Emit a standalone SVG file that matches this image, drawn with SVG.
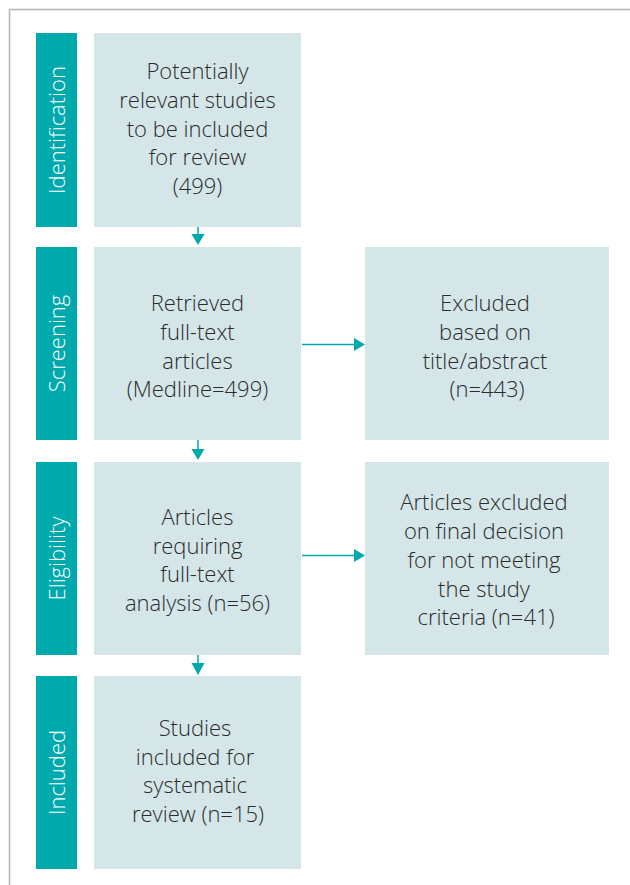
<svg xmlns="http://www.w3.org/2000/svg" width="630" height="885" viewBox="0 0 630 885">
<style>
.frame{fill:#fff;stroke:#b5b5b5;stroke-width:1.5}
.bar{fill:#00a9ac}
.box{fill:#d4e6e8}
.lbl{font-family:"Open Sans",Lato,sans-serif;font-weight:300;font-size:22px;fill:#fff;text-anchor:middle;font-variant-ligatures:none}
.txt{font-family:"Open Sans",Lato,sans-serif;font-weight:300;font-size:22px;fill:#2b2b2b;text-anchor:middle;font-variant-ligatures:none}
.conn{stroke:#00a9ac;stroke-width:1.5;fill:none}
.head{fill:#00a9ac}
</style>
<rect class="frame" x="9.5" y="9.5" width="640" height="900"/>
<g id="stage-identification"><rect class="bar" x="36" y="33" width="41" height="194"/><text class="lbl" transform="translate(65,130) rotate(-90)">Identification</text></g>
<g id="stage-screening"><rect class="bar" x="36" y="247" width="41" height="193"/><text class="lbl" transform="translate(65,343.5) rotate(-90)">Screening</text></g>
<g id="stage-eligibility"><rect class="bar" x="36" y="462" width="41" height="193"/><text class="lbl" transform="translate(65,558.5) rotate(-90)">Eligibility</text></g>
<g id="stage-included"><rect class="bar" x="36" y="676" width="41" height="193"/><text class="lbl" transform="translate(65,772.5) rotate(-90)">Included</text></g>
<g id="node-potential"><rect class="box" x="94" y="33" width="207" height="194"/>
<text class="txt"><tspan x="197.5" y="79">Potentially</tspan><tspan x="197.5" y="108">relevant studies</tspan><tspan x="197.5" y="137">to be included</tspan><tspan x="197.5" y="165">for review</tspan><tspan x="197.5" y="194">(499)</tspan></text></g>
<g id="node-retrieved"><rect class="box" x="94" y="247" width="207" height="193"/>
<text class="txt"><tspan x="197.5" y="311">Retrieved</tspan><tspan x="197.5" y="340">full-text</tspan><tspan x="197.5" y="369">articles</tspan><tspan x="197.5" y="397">(Medline=499)</tspan></text></g>
<g id="node-excluded1"><rect class="box" x="365" y="247" width="244" height="193"/>
<text class="txt"><tspan x="485" y="311">Excluded</tspan><tspan x="485" y="340">based on</tspan><tspan x="485" y="369">title/abstract</tspan><tspan x="487" y="397">(n=443)</tspan></text></g>
<g id="node-fulltext"><rect class="box" x="94" y="462" width="207" height="193"/>
<text class="txt"><tspan x="197.5" y="525">Articles</tspan><tspan x="197.5" y="554">requiring</tspan><tspan x="197.5" y="582">full-text</tspan><tspan x="197.5" y="611">analysis (n=56)</tspan></text></g>
<g id="node-excluded2"><rect class="box" x="365" y="462" width="244" height="193"/>
<text class="txt"><tspan x="484" y="510">Articles excluded</tspan><tspan x="484" y="539">on final decision</tspan><tspan x="484" y="568">for not meeting</tspan><tspan x="484" y="597">the study</tspan><tspan x="486" y="625">criteria (n=41)</tspan></text></g>
<g id="node-included"><rect class="box" x="94" y="676" width="207" height="193"/>
<text class="txt"><tspan x="195" y="736">Studies</tspan><tspan x="195" y="765">included for</tspan><tspan x="195" y="793">systematic</tspan><tspan x="198" y="822">review (n=15)</tspan></text></g>
<g id="connectors">
<line class="conn" x1="198" y1="227" x2="198" y2="235"/><polygon class="head" points="191.5,234 204.5,234 198,245"/>
<line class="conn" x1="198" y1="440" x2="198" y2="450"/><polygon class="head" points="191.5,449 204.5,449 198,460"/>
<line class="conn" x1="198" y1="655" x2="198" y2="664"/><polygon class="head" points="191.5,663 204.5,663 198,675"/>
<line class="conn" x1="302" y1="344.5" x2="355" y2="344.5"/><polygon class="head" points="354,338 354,351 365,344.5"/>
<line class="conn" x1="302" y1="555.5" x2="355" y2="555.5"/><polygon class="head" points="354,549 354,562 365,555.5"/>
</g>
</svg>
